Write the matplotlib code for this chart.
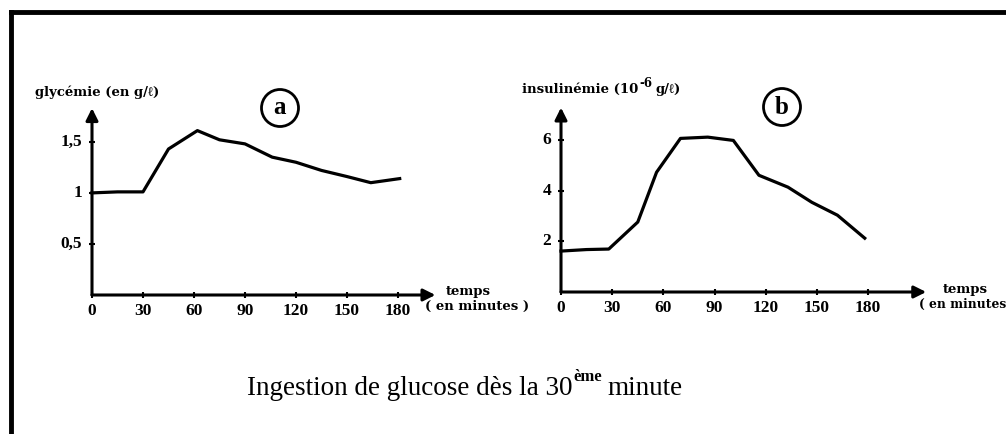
import matplotlib.pyplot as plt

plt.rcParams['font.family'] = ['Liberation Serif', 'DejaVu Serif']

# glycemia (a)
t_a = [0, 15, 30, 45, 62, 75, 90, 106, 120, 135, 150, 164, 181]
glyc = [1.0, 1.01, 1.01, 1.43, 1.61, 1.52, 1.48, 1.35, 1.30, 1.22, 1.16, 1.10, 1.14]

# insulinemia (b)
t_b = [0, 15, 28, 45, 56, 70, 86, 101, 116, 133, 147, 162, 178]
insu = [1.62, 1.68, 1.7, 2.77, 4.74, 6.08, 6.13, 6.0, 4.62, 4.15, 3.55, 3.04, 2.13]

x_ticks = [0, 30, 60, 90, 120, 150, 180]
yticks_a = [0.5, 1, 1.5]
ylabels_a = ['0,5', '1', '1,5']
yticks_b = [2, 4, 6]
ylabels_b = ['2', '4', '6']

W, H = 1006, 434
fig = plt.figure(figsize=(W / 100, H / 100), dpi=100)

small = dict(family=['DejaVu Serif', 'Liberation Serif', 'DejaVu Sans'],
             fontweight='bold')


def px_axes(x0, y0, x1, y1):
    # pixel box (left, top, right, bottom) -> figure fraction axes
    return fig.add_axes([x0 / W, 1 - y1 / H, (x1 - x0) / W, (y1 - y0) / H])


def draw_panel(ax, t, v, xmax, ymax, arrow_x, arrow_y, yticks, ylabels):
    ax.set_xlim(0, xmax)
    ax.set_ylim(0, ymax)
    ax.axis('off')
    ax.annotate('', xy=(arrow_x, 0), xytext=(0, 0),
                arrowprops=dict(arrowstyle='-|>', color='black', lw=2.2,
                                mutation_scale=18, shrinkA=0, shrinkB=0))
    ax.annotate('', xy=(0, arrow_y), xytext=(0, 0),
                arrowprops=dict(arrowstyle='-|>', color='black', lw=2.2,
                                mutation_scale=18, shrinkA=0, shrinkB=0))
    ax.plot(t, v, color='black', lw=2.3, solid_joinstyle='round',
            clip_on=False)
    for x in x_ticks:
        ax.plot([x], [0], marker='|', color='black', ms=5, mew=1.5,
                clip_on=False)
        ax.annotate(str(x), xy=(x, 0), xytext=(0, -6),
                    textcoords='offset points', ha='center', va='top',
                    fontsize=12.5, fontweight='bold')
    for y, lab in zip(yticks, ylabels):
        ax.plot([0], [y], marker='_', color='black', ms=5, mew=1.5,
                clip_on=False)
        ax.annotate(lab, xy=(0, y), xytext=(-7, 0),
                    textcoords='offset points', ha='right', va='center',
                    fontsize=12.5, fontweight='bold')


ax_a = px_axes(92, 101, 440.5, 295)
draw_panel(ax_a, t_a, glyc, 205, 1.9, 202, 1.83, yticks_a, ylabels_a)

ax_b = px_axes(561, 100, 933, 292)
draw_panel(ax_b, t_b, insu, 218, 7.6, 214, 7.3, yticks_b, ylabels_b)

fig.canvas.draw()
r = fig.canvas.get_renderer()

# axis titles
fig.text(35 / W, 1 - 92 / H, 'glycémie (en g/ℓ)', fontsize=9.5,
         va='center', ha='left', **small)
ins_y = 1 - 93 / H
i1 = fig.text(522 / W, ins_y, 'insulinémie (10', fontsize=9.5,
              va='baseline', ha='left', **small)
bi = i1.get_window_extent(r)
i2 = fig.text(bi.x1 / W + 1 / W, ins_y + 6 / H, '-6', fontsize=8.5,
              va='baseline', ha='left', **small)
bi2 = i2.get_window_extent(r)
fig.text(bi2.x1 / W + 3 / W, ins_y, 'g/ℓ)', fontsize=9.5,
         va='baseline', ha='left', **small)

fig.text(446 / W, 1 - 291 / H, 'temps', fontsize=9.5, va='center',
         ha='left', **small)
fig.text(425 / W, 1 - 306 / H, '( en minutes )', fontsize=9.5,
         va='center', ha='left', **small)
fig.text(943 / W, 1 - 289 / H, 'temps', fontsize=9.5, va='center',
         ha='left', **small)
fig.text(919 / W, 1 - 304 / H, '( en minutes', fontsize=8.8,
         va='center', ha='left', **small)

# circled panel letters
for cx, cy, letter in [(280, 108, 'a'), (782, 107, 'b')]:
    fig.text(cx / W, 1 - cy / H, letter, fontsize=18, fontweight='bold',
             ha='center', va='center',
             bbox=dict(boxstyle='circle,pad=0.28', fc='white', ec='black',
                       lw=2))

# caption with superscript
cap_y = 1 - 395 / H
t1 = fig.text(247 / W, cap_y, 'Ingestion de glucose dès la 30', fontsize=19.5,
              ha='left', va='baseline')
bb = t1.get_window_extent(r)
t2 = fig.text(bb.x1 / W + 1 / W, cap_y + 14 / H, 'ème', fontsize=12,
              fontweight='bold', ha='left', va='baseline')
bb2 = t2.get_window_extent(r)
fig.text(bb2.x1 / W + 5 / W, cap_y, 'minute', fontsize=19.5, ha='left',
         va='baseline')

# frame (top and left edges)
fig.add_artist(plt.Line2D([11 / W, 1], [1 - 12 / H, 1 - 12 / H],
                          color='black', lw=3.5))
fig.add_artist(plt.Line2D([11 / W, 11 / W], [0, 1 - 12 / H],
                          color='black', lw=3.5))

fig.savefig('out.png', dpi=100)
